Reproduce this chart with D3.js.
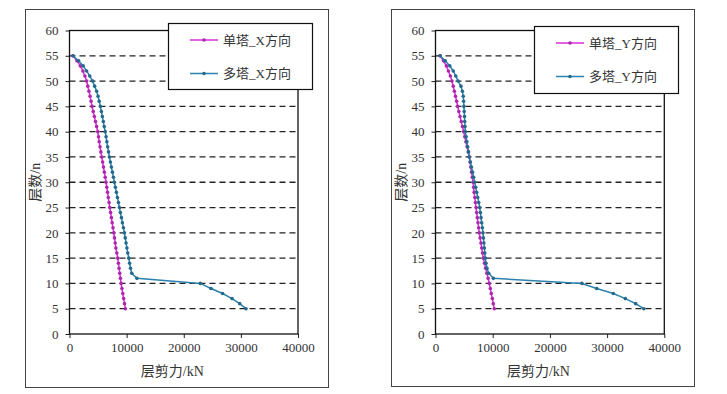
<!DOCTYPE html>
<html>
<head>
<meta charset="utf-8">
<script src="https://cdn.jsdelivr.net/npm/d3@7"></script>
<style>
  body { margin: 0; background: #fff; }
  text { font-family: "Liberation Serif", "Noto Sans CJK SC", serif; fill: #333; }
</style>
</head>
<body>
<svg id="grafico" width="727" height="394"></svg>
<script>
// pisos 55 -> 5
const pisos = d3.range(55, 4, -1);

const unicoX = [600, 1300, 1900, 2350, 2700, 3000, 3200, 3400, 3600, 3780,
  3950, 4150, 4350, 4550, 4750, 4950, 5080, 5200, 5340, 5490,
  5640, 5800, 5950, 6100, 6250, 6400, 6530, 6660, 6790, 6920,
  7050, 7190, 7330, 7470, 7610, 7760, 7880, 8000, 8120, 8280,
  8450, 8560, 8680, 8800, 8920, 9030, 9180, 9330, 9480, 9630, 9790];

const multiX = [600, 1600, 2400, 3000, 3550, 4050, 4400, 4750, 5000, 5200,
  5400, 5580, 5750, 5920, 6080, 6250, 6400, 6540, 6680, 6830,
  6980, 7160, 7330, 7510, 7690, 7860, 8030, 8210, 8390, 8570,
  8740, 8910, 9090, 9260, 9440, 9620, 9760, 9900, 10050, 10200,
  10380, 10520, 10680, 10900, 11800, 22900, 24760, 26800, 28450, 29790, 30900];

const unicoY = [800, 1400, 1900, 2250, 2600, 2880, 3100, 3300, 3500, 3700,
  3880, 4080, 4290, 4500, 4720, 4930, 5120, 5320, 5520, 5720,
  5910, 6040, 6170, 6300, 6430, 6560, 6660, 6760, 6870, 6980,
  7080, 7200, 7310, 7430, 7540, 7660, 7800, 7940, 8080, 8220,
  8360, 8560, 8760, 8980, 9200, 9400, 9580, 9750, 9930, 10100, 10280];

const multiY = [800, 1700, 2500, 3100, 3550, 3950, 4450, 4700, 4850, 4920,
  4970, 5020, 5070, 5110, 5160, 5210, 5350, 5490, 5630, 5770,
  5910, 6100, 6290, 6480, 6670, 6850, 7030, 7200, 7380, 7560,
  7730, 7850, 7960, 8070, 8190, 8300, 8380, 8460, 8540, 8620,
  8700, 8830, 9000, 9300, 10120, 25600, 28180, 31090, 33180, 34990, 36420];

const ticksX = [0, 10000, 20000, 30000, 40000];
const ticksY = d3.range(0, 61, 5);

const paneles = [
  { marco: [25, 9, 303, 378], plot: [69.5, 30.5, 228.5, 303.5], leyenda: [168, 23, 144, 66],
    series: [{ nombre: "单塔_X方向", valores: unicoX, color: "#d92ed9" },
             { nombre: "多塔_X方向", valores: multiX, color: "#2b82ad" }] },
  { marco: [391, 9, 303, 377], plot: [435.5, 30.5, 228.8, 303.5], leyenda: [534, 26, 144, 67],
    series: [{ nombre: "单塔_Y方向", valores: unicoY, color: "#d92ed9" },
             { nombre: "多塔_Y方向", valores: multiY, color: "#2b82ad" }] }
];

const svg = d3.select('#grafico');

paneles.forEach(p => {
  const g = svg.append('g');
  const [px, py, pw, ph] = p.plot;

  g.append('rect')
    .attr('x', p.marco[0] + 0.5).attr('y', p.marco[1] + 0.5)
    .attr('width', p.marco[2]).attr('height', p.marco[3])
    .attr('fill', 'none').attr('stroke', '#444').attr('stroke-width', 1);

  const x = d3.scaleLinear().domain([0, 40000]).range([px, px + pw]);
  const y = d3.scaleLinear().domain([0, 60]).range([py + ph, py]);

  // lineas de la cuadricula
  g.selectAll('line.grid')
    .data(ticksY.filter(t => t > 0 && t < 60))
    .join('line')
    .attr('class', 'grid')
    .attr('x1', px).attr('x2', px + pw)
    .attr('y1', d => y(d)).attr('y2', d => y(d))
    .attr('stroke', '#222').attr('stroke-width', 1.3)
    .attr('stroke-dasharray', '6,4');

  const ejeX = g.append('g')
    .attr('transform', `translate(0,${py + ph})`)
    .call(d3.axisBottom(x).tickValues(ticksX).tickSize(4).tickSizeOuter(0).tickFormat(d3.format('d')));
  const ejeY = g.append('g')
    .attr('transform', `translate(${px},0)`)
    .call(d3.axisLeft(y).tickValues(ticksY).tickSize(4).tickSizeOuter(0));

  [ejeX, ejeY].forEach(e => {
    e.select('.domain').remove();
    e.selectAll('line').attr('stroke', '#222');
    e.selectAll('text').attr('font-size', 13).attr('fill', '#333')
      .style('font-family', '"Liberation Serif", serif');
  });
  ejeX.selectAll('text').attr('dy', '0.71em').attr('y', 9);
  ejeY.selectAll('text').attr('x', -11);

  g.append('rect')
    .attr('x', px).attr('y', py).attr('width', pw).attr('height', ph)
    .attr('fill', 'none').attr('stroke', '#111').attr('stroke-width', 1.3);

  const linea = d3.line().x(d => x(d[1])).y(d => y(d[0]));

  p.series.forEach(s => {
    const puntos = pisos.map((f, i) => [f, s.valores[i]]);
    g.append('path')
      .datum(puntos)
      .attr('d', linea)
      .attr('fill', 'none')
      .attr('stroke', s.color)
      .attr('stroke-width', 1.5);
    g.selectAll(null)
      .data(puntos)
      .join('circle')
      .attr('cx', d => x(d[1])).attr('cy', d => y(d[0]))
      .attr('r', 1.8)
      .attr('fill', d3.color(s.color).darker(0.6));
  });

  // leyenda
  const [lx, ly, lw, lh] = p.leyenda;
  const ley = g.append('g');
  ley.append('rect')
    .attr('x', lx + 0.5).attr('y', ly + 0.5).attr('width', lw).attr('height', lh)
    .attr('fill', '#fff').attr('stroke', '#111').attr('stroke-width', 1.2);
  p.series.forEach((s, i) => {
    const cy = ly + 17 + i * 33.5;
    ley.append('line')
      .attr('x1', lx + 22).attr('x2', lx + 50)
      .attr('y1', cy).attr('y2', cy)
      .attr('stroke', s.color).attr('stroke-width', 1.5);
    ley.append('circle')
      .attr('cx', lx + 36).attr('cy', cy).attr('r', 1.8)
      .attr('fill', d3.color(s.color).darker(0.6));
    ley.append('text')
      .attr('x', lx + 55).attr('y', cy)
      .attr('dy', '0.35em')
      .attr('font-size', 13)
      .text(s.nombre);
  });

  // titulos
  g.append('text')
    .attr('x', px + pw * 0.45).attr('y', 376)
    .attr('text-anchor', 'middle')
    .attr('font-size', 14)
    .text('层剪力/kN');
  g.append('text')
    .attr('transform', `translate(${px - 34},${py + ph * 0.5}) rotate(-90)`)
    .attr('text-anchor', 'middle')
    .attr('dy', '0.35em')
    .attr('font-size', 14)
    .text('层数/n');
});
</script>
</body>
</html>
